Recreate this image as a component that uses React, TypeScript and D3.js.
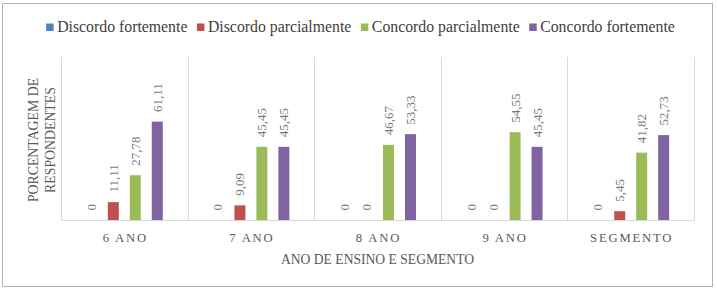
import React, { useEffect, useRef } from "react";
import * as d3 from "d3";

const categories = ["6 ANO", "7 ANO", "8 ANO", "9 ANO", "SEGMENTO"];
const seriesNames = [
  "Discordo fortemente",
  "Discordo parcialmente",
  "Concordo parcialmente",
  "Concordo fortemente",
];
const discordoFortemente = [0, 0, 0, 0, 0];
const discordoParcialmente = [11.11, 9.09, 0, 0, 5.45];
const concordoParcialmente = [27.78, 45.45, 46.67, 54.55, 41.82];
const concordoFortemente = [61.11, 45.45, 53.33, 45.45, 52.73];
const seriesColors = ["#4F81BD", "#C0504D", "#9BBB59", "#8064A2"];
const yTitleLines = ["PORCENTAGEM DE", "RESPONDENTES"];
const xTitle = "ANO DE ENSINO E SEGMENTO";

const W = 717;
const H = 292;
const FONT = "'Liberation Serif', 'Times New Roman', serif";

export default function App() {
  const ref = useRef<SVGSVGElement | null>(null);

  useEffect(() => {
    const svg = d3.select(ref.current);
    svg.selectAll("*").remove();

    const values = [
      discordoFortemente,
      discordoParcialmente,
      concordoParcialmente,
      concordoFortemente,
    ];

    // outer border
    svg
      .append("rect")
      .attr("x", 2.5)
      .attr("y", 3.5)
      .attr("width", 710)
      .attr("height", 283)
      .attr("fill", "#fff")
      .attr("stroke", "#b3b3b3")
      .attr("stroke-width", 1);

    const left = 61;
    const right = 694;
    const top = 59;
    const bottom = 220;

    const x0 = d3.scaleBand<string>().domain(categories).range([left, right]).padding(0);
    const x1 = d3
      .scaleBand<string>()
      .domain(seriesNames)
      .range([0, x0.bandwidth()])
      .paddingInner(0.5)
      .paddingOuter(1.13);
    const y = d3.scaleLinear().domain([0, 100]).range([bottom, top]);

    // category separators
    const bounds = categories.map((c) => x0(c) as number).concat([right]);
    svg
      .append("g")
      .selectAll("line")
      .data(bounds)
      .join("line")
      .attr("x1", (d) => Math.round(d) + 0.5)
      .attr("x2", (d) => Math.round(d) + 0.5)
      .attr("y1", 57)
      .attr("y2", bottom)
      .attr("stroke", "#d9d9d9")
      .attr("stroke-width", 1);

    // baseline
    svg
      .append("line")
      .attr("x1", left)
      .attr("x2", right + 1)
      .attr("y1", bottom + 0.5)
      .attr("y2", bottom + 0.5)
      .attr("stroke", "#d9d9d9")
      .attr("stroke-width", 1);

    const flat: { cat: string; ser: string; v: number; i: number }[] = [];
    categories.forEach((cat, ci) => {
      seriesNames.forEach((ser, si) => {
        flat.push({ cat, ser, v: values[si][ci], i: si });
      });
    });

    // bars
    svg
      .append("g")
      .selectAll("rect")
      .data(flat)
      .join("rect")
      .attr("x", (d) => (x0(d.cat) as number) + (x1(d.ser) as number))
      .attr("width", x1.bandwidth())
      .attr("y", (d) => y(d.v))
      .attr("height", (d) => bottom - y(d.v))
      .attr("fill", (d) => seriesColors[d.i]);

    // data labels
    svg
      .append("g")
      .selectAll("text")
      .data(flat)
      .join("text")
      .attr("transform", (d) => {
        const cx = (x0(d.cat) as number) + (x1(d.ser) as number) + x1.bandwidth() / 2;
        const cy = y(d.v) - 9.5;
        return `translate(${cx},${cy}) rotate(-90)`;
      })
      .attr("text-anchor", "start")
      .attr("dy", "0.35em")
      .attr("font-family", FONT)
      .attr("font-size", 13)
      .attr("fill", "#7a7a7a")
      .text((d) => String(d.v).replace(".", ","));

    // category labels
    svg
      .append("g")
      .selectAll("text")
      .data(categories)
      .join("text")
      .attr("x", (d) => (x0(d) as number) + x0.bandwidth() / 2 + 1)
      .attr("y", 242)
      .attr("text-anchor", "middle")
      .attr("font-family", FONT)
      .attr("font-size", 12.7)
      .attr("letter-spacing", 1.8)
      .attr("fill", "#595959")
      .text((d) => d);

    // x title
    svg
      .append("text")
      .attr("x", (left + right) / 2)
      .attr("y", 264)
      .attr("text-anchor", "middle")
      .attr("font-family", FONT)
      .attr("font-size", 13.6)
      .attr("fill", "#595959")
      .text(xTitle);

    // y title
    yTitleLines.forEach((line, i) => {
      svg
        .append("text")
        .attr("transform", `translate(${37.5 + i * 17.5},140) rotate(-90)`)
        .attr("text-anchor", "middle")
        .attr("font-family", FONT)
        .attr("font-size", 13.8)
        .attr("fill", "#595959")
        .text(line);
    });

    // legend
    const lg = svg.append("g");
    const items = seriesNames.map((name, i) => {
      const g = lg.append("g");
      g.append("rect")
        .attr("x", 0)
        .attr("y", 23.5)
        .attr("width", 7.5)
        .attr("height", 7.5)
        .attr("fill", seriesColors[i]);
      const t = g
        .append("text")
        .attr("x", 11)
        .attr("y", 32)
        .attr("font-family", FONT)
        .attr("font-size", 15.8)
        .attr("fill", "#404040")
        .text(name);
      const w = (t.node() as SVGTextElement).getComputedTextLength();
      return { g, w: 11 + w };
    });
    const gap = 9.5;
    const total = d3.sum(items, (d) => d.w) + gap * (items.length - 1);
    let cx = 360.5 - total / 2;
    items.forEach((it) => {
      it.g.attr("transform", `translate(${cx},0)`);
      cx += it.w + gap;
    });
  }, []);

  return (
    <svg
      ref={ref}
      width={W}
      height={H}
      style={{ position: "fixed", left: 0, top: 0, background: "#fff" }}
    />
  );
}
